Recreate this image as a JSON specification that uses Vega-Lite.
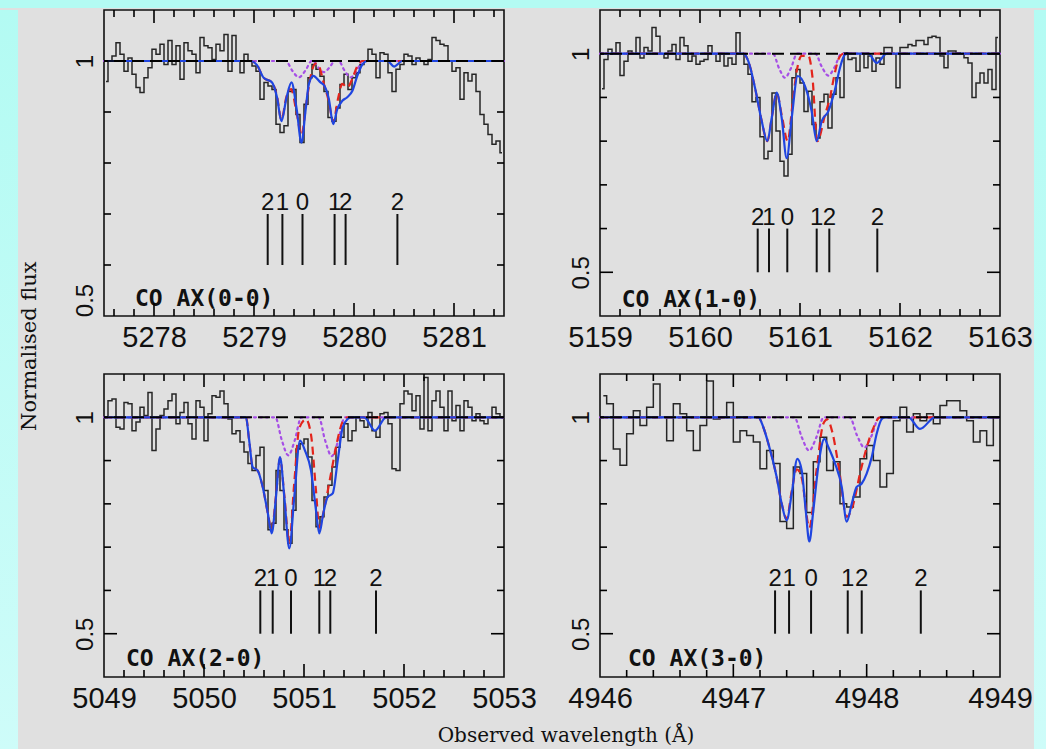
{
 "$schema": "https://vega.github.io/schema/vega-lite/v6.json",
 "background": "#e0e0e0",
 "padding": 0,
 "spacing": 0,
 "config": {
  "view": {"stroke": "#111", "strokeWidth": 1.6, "fill": null},
  "axis": {"domain": false, "grid": false, "ticks": false, "tickSize": 0, "labelColor": "#111", "labelFont": "Liberation Sans", "labelFlush": false, "labelOverlap": false}
 },
 "datasets": {
  "spec": [
   {"p":"a","w":5277.52,"f":0.96},{"p":"a","w":5277.56,"f":1.0},{"p":"a","w":5277.60,"f":1.01},{"p":"a","w":5277.64,"f":1.036},{"p":"a","w":5277.68,"f":1.013},{"p":"a","w":5277.72,"f":0.98},{"p":"a","w":5277.76,"f":1.006},{"p":"a","w":5277.80,"f":0.974},{"p":"a","w":5277.84,"f":0.948},{"p":"a","w":5277.88,"f":0.938},
   {"p":"a","w":5277.92,"f":0.967},{"p":"a","w":5277.96,"f":0.987},{"p":"a","w":5278.00,"f":1.023},{"p":"a","w":5278.04,"f":1.013},{"p":"a","w":5278.08,"f":1.033},{"p":"a","w":5278.12,"f":0.993},{"p":"a","w":5278.16,"f":1.04},{"p":"a","w":5278.20,"f":0.993},{"p":"a","w":5278.24,"f":1.03},{"p":"a","w":5278.28,"f":0.964},
   {"p":"a","w":5278.32,"f":1.036},{"p":"a","w":5278.36,"f":1.02},{"p":"a","w":5278.40,"f":1.013},{"p":"a","w":5278.44,"f":0.977},{"p":"a","w":5278.48,"f":1.046},{"p":"a","w":5278.52,"f":1.03},{"p":"a","w":5278.56,"f":1.026},{"p":"a","w":5278.60,"f":1.003},{"p":"a","w":5278.64,"f":1.033},{"p":"a","w":5278.68,"f":1.02},
   {"p":"a","w":5278.72,"f":1.052},{"p":"a","w":5278.76,"f":0.98},{"p":"a","w":5278.80,"f":1.05},{"p":"a","w":5278.84,"f":1.0},{"p":"a","w":5278.88,"f":0.977},{"p":"a","w":5278.92,"f":1.013},{"p":"a","w":5278.96,"f":1.0},{"p":"a","w":5279.00,"f":0.99},{"p":"a","w":5279.04,"f":0.98},{"p":"a","w":5279.08,"f":0.925},
   {"p":"a","w":5279.12,"f":0.958},{"p":"a","w":5279.16,"f":0.951},{"p":"a","w":5279.20,"f":0.944},{"p":"a","w":5279.24,"f":0.876},{"p":"a","w":5279.28,"f":0.86},{"p":"a","w":5279.32,"f":0.873},{"p":"a","w":5279.36,"f":0.94},{"p":"a","w":5279.40,"f":0.944},{"p":"a","w":5279.44,"f":0.895},{"p":"a","w":5279.48,"f":0.84},
   {"p":"a","w":5279.52,"f":0.915},{"p":"a","w":5279.56,"f":0.967},{"p":"a","w":5279.60,"f":0.993},{"p":"a","w":5279.64,"f":0.984},{"p":"a","w":5279.68,"f":0.97},{"p":"a","w":5279.72,"f":0.94},{"p":"a","w":5279.76,"f":0.889},{"p":"a","w":5279.80,"f":0.882},{"p":"a","w":5279.84,"f":0.908},{"p":"a","w":5279.88,"f":0.954},
   {"p":"a","w":5279.92,"f":0.974},{"p":"a","w":5279.96,"f":0.944},{"p":"a","w":5280.00,"f":0.967},{"p":"a","w":5280.04,"f":0.977},{"p":"a","w":5280.08,"f":0.993},{"p":"a","w":5280.12,"f":1.0},{"p":"a","w":5280.16,"f":1.023},{"p":"a","w":5280.20,"f":1.013},{"p":"a","w":5280.24,"f":0.967},{"p":"a","w":5280.28,"f":1.016},
   {"p":"a","w":5280.32,"f":1.013},{"p":"a","w":5280.36,"f":0.977},{"p":"a","w":5280.40,"f":0.94},{"p":"a","w":5280.44,"f":0.984},{"p":"a","w":5280.48,"f":0.993},{"p":"a","w":5280.52,"f":1.013},{"p":"a","w":5280.56,"f":1.01},{"p":"a","w":5280.60,"f":0.993},{"p":"a","w":5280.64,"f":1.006},{"p":"a","w":5280.68,"f":1.0},
   {"p":"a","w":5280.72,"f":0.993},{"p":"a","w":5280.76,"f":1.003},{"p":"a","w":5280.80,"f":1.046},{"p":"a","w":5280.84,"f":1.04},{"p":"a","w":5280.88,"f":1.033},{"p":"a","w":5280.92,"f":1.03},{"p":"a","w":5280.96,"f":1.0},{"p":"a","w":5281.00,"f":0.98},{"p":"a","w":5281.04,"f":0.987},{"p":"a","w":5281.08,"f":0.925},
   {"p":"a","w":5281.12,"f":0.977},{"p":"a","w":5281.16,"f":0.961},{"p":"a","w":5281.20,"f":0.974},{"p":"a","w":5281.24,"f":0.94},{"p":"a","w":5281.28,"f":0.895},{"p":"a","w":5281.32,"f":0.876},{"p":"a","w":5281.36,"f":0.856},{"p":"a","w":5281.40,"f":0.837},{"p":"a","w":5281.44,"f":0.843},{"p":"a","w":5281.48,"f":0.82},

   {"p":"b","w":5159.02,"f":0.92},{"p":"b","w":5159.06,"f":0.987},{"p":"b","w":5159.10,"f":1.01},{"p":"b","w":5159.14,"f":1.0},{"p":"b","w":5159.18,"f":1.025},{"p":"b","w":5159.22,"f":0.95},{"p":"b","w":5159.26,"f":0.983},{"p":"b","w":5159.30,"f":1.006},{"p":"b","w":5159.34,"f":1.0},{"p":"b","w":5159.38,"f":1.037},
   {"p":"b","w":5159.42,"f":0.99},{"p":"b","w":5159.46,"f":1.014},{"p":"b","w":5159.50,"f":1.006},{"p":"b","w":5159.54,"f":1.06},{"p":"b","w":5159.58,"f":1.04},{"p":"b","w":5159.62,"f":1.0},{"p":"b","w":5159.66,"f":0.99},{"p":"b","w":5159.70,"f":1.006},{"p":"b","w":5159.74,"f":1.021},{"p":"b","w":5159.78,"f":0.987},
   {"p":"b","w":5159.82,"f":1.037},{"p":"b","w":5159.86,"f":1.018},{"p":"b","w":5159.90,"f":0.983},{"p":"b","w":5159.94,"f":0.995},{"p":"b","w":5159.98,"f":0.976},{"p":"b","w":5160.02,"f":0.983},{"p":"b","w":5160.06,"f":0.987},{"p":"b","w":5160.10,"f":1.018},{"p":"b","w":5160.14,"f":1.0},{"p":"b","w":5160.18,"f":0.983},
   {"p":"b","w":5160.22,"f":1.0},{"p":"b","w":5160.26,"f":0.972},{"p":"b","w":5160.30,"f":0.99},{"p":"b","w":5160.34,"f":0.976},{"p":"b","w":5160.38,"f":1.048},{"p":"b","w":5160.42,"f":1.0},{"p":"b","w":5160.46,"f":0.976},{"p":"b","w":5160.50,"f":0.953},{"p":"b","w":5160.54,"f":0.89},{"p":"b","w":5160.58,"f":0.9},
   {"p":"b","w":5160.62,"f":0.81},{"p":"b","w":5160.66,"f":0.76},{"p":"b","w":5160.70,"f":0.777},{"p":"b","w":5160.74,"f":0.91},{"p":"b","w":5160.78,"f":0.823},{"p":"b","w":5160.82,"f":0.754},{"p":"b","w":5160.86,"f":0.72},{"p":"b","w":5160.90,"f":0.77},{"p":"b","w":5160.94,"f":0.945},{"p":"b","w":5160.98,"f":0.964},
   {"p":"b","w":5161.02,"f":0.933},{"p":"b","w":5161.06,"f":0.868},{"p":"b","w":5161.10,"f":0.914},{"p":"b","w":5161.14,"f":0.838},{"p":"b","w":5161.18,"f":0.807},{"p":"b","w":5161.22,"f":0.89},{"p":"b","w":5161.26,"f":0.907},{"p":"b","w":5161.30,"f":0.83},{"p":"b","w":5161.34,"f":0.907},{"p":"b","w":5161.38,"f":0.945},
   {"p":"b","w":5161.42,"f":0.9},{"p":"b","w":5161.46,"f":1.002},{"p":"b","w":5161.50,"f":0.987},{"p":"b","w":5161.54,"f":0.99},{"p":"b","w":5161.58,"f":0.96},{"p":"b","w":5161.62,"f":1.0},{"p":"b","w":5161.66,"f":0.968},{"p":"b","w":5161.70,"f":0.995},{"p":"b","w":5161.74,"f":0.96},{"p":"b","w":5161.78,"f":0.99},
   {"p":"b","w":5161.82,"f":0.976},{"p":"b","w":5161.86,"f":1.014},{"p":"b","w":5161.90,"f":1.014},{"p":"b","w":5161.94,"f":1.0},{"p":"b","w":5161.98,"f":0.922},{"p":"b","w":5162.02,"f":1.014},{"p":"b","w":5162.06,"f":1.014},{"p":"b","w":5162.10,"f":1.021},{"p":"b","w":5162.14,"f":1.018},{"p":"b","w":5162.18,"f":1.03},
   {"p":"b","w":5162.22,"f":1.03},{"p":"b","w":5162.26,"f":1.021},{"p":"b","w":5162.30,"f":1.037},{"p":"b","w":5162.34,"f":1.04},{"p":"b","w":5162.38,"f":1.037},{"p":"b","w":5162.42,"f":0.995},{"p":"b","w":5162.46,"f":0.968},{"p":"b","w":5162.50,"f":1.006},{"p":"b","w":5162.54,"f":1.006},{"p":"b","w":5162.58,"f":1.002},
   {"p":"b","w":5162.62,"f":1.0},{"p":"b","w":5162.66,"f":0.991},{"p":"b","w":5162.70,"f":0.979},{"p":"b","w":5162.74,"f":0.9},{"p":"b","w":5162.78,"f":0.933},{"p":"b","w":5162.82,"f":0.956},{"p":"b","w":5162.86,"f":0.933},{"p":"b","w":5162.90,"f":0.964},{"p":"b","w":5162.94,"f":0.918},{"p":"b","w":5162.98,"f":1.037},

   {"p":"c","w":5049.02,"f":1.0},{"p":"c","w":5049.06,"f":1.038},{"p":"c","w":5049.10,"f":1.042},{"p":"c","w":5049.14,"f":0.977},{"p":"c","w":5049.18,"f":0.973},{"p":"c","w":5049.22,"f":1.034},{"p":"c","w":5049.26,"f":1.031},{"p":"c","w":5049.30,"f":0.969},{"p":"c","w":5049.34,"f":0.989},{"p":"c","w":5049.38,"f":1.023},
   {"p":"c","w":5049.42,"f":1.004},{"p":"c","w":5049.46,"f":1.057},{"p":"c","w":5049.50,"f":0.923},{"p":"c","w":5049.54,"f":0.973},{"p":"c","w":5049.58,"f":1.004},{"p":"c","w":5049.62,"f":1.019},{"p":"c","w":5049.66,"f":1.038},{"p":"c","w":5049.70,"f":1.054},{"p":"c","w":5049.74,"f":0.985},{"p":"c","w":5049.78,"f":1.011},
   {"p":"c","w":5049.82,"f":1.034},{"p":"c","w":5049.86,"f":0.985},{"p":"c","w":5049.90,"f":0.95},{"p":"c","w":5049.94,"f":1.038},{"p":"c","w":5049.98,"f":1.023},{"p":"c","w":5050.02,"f":0.946},{"p":"c","w":5050.06,"f":1.008},{"p":"c","w":5050.10,"f":1.05},{"p":"c","w":5050.14,"f":1.046},{"p":"c","w":5050.18,"f":1.061},
   {"p":"c","w":5050.22,"f":1.031},{"p":"c","w":5050.26,"f":0.996},{"p":"c","w":5050.30,"f":0.962},{"p":"c","w":5050.34,"f":0.969},{"p":"c","w":5050.38,"f":0.943},{"p":"c","w":5050.42,"f":0.92},{"p":"c","w":5050.46,"f":0.893},{"p":"c","w":5050.50,"f":0.877},{"p":"c","w":5050.54,"f":0.912},{"p":"c","w":5050.58,"f":0.931},
   {"p":"c","w":5050.62,"f":0.831},{"p":"c","w":5050.66,"f":0.74},{"p":"c","w":5050.70,"f":0.755},{"p":"c","w":5050.74,"f":0.877},{"p":"c","w":5050.78,"f":0.831},{"p":"c","w":5050.82,"f":0.74},{"p":"c","w":5050.86,"f":0.709},{"p":"c","w":5050.90,"f":0.785},{"p":"c","w":5050.94,"f":0.927},{"p":"c","w":5050.98,"f":0.939},
   {"p":"c","w":5051.02,"f":0.95},{"p":"c","w":5051.06,"f":0.908},{"p":"c","w":5051.10,"f":0.808},{"p":"c","w":5051.14,"f":0.747},{"p":"c","w":5051.18,"f":0.77},{"p":"c","w":5051.22,"f":0.816},{"p":"c","w":5051.26,"f":0.843},{"p":"c","w":5051.30,"f":0.885},{"p":"c","w":5051.34,"f":0.931},{"p":"c","w":5051.38,"f":0.954},
   {"p":"c","w":5051.42,"f":0.985},{"p":"c","w":5051.46,"f":0.946},{"p":"c","w":5051.50,"f":0.969},{"p":"c","w":5051.54,"f":1.0},{"p":"c","w":5051.58,"f":0.992},{"p":"c","w":5051.62,"f":0.977},{"p":"c","w":5051.66,"f":1.011},{"p":"c","w":5051.70,"f":0.969},{"p":"c","w":5051.74,"f":0.954},{"p":"c","w":5051.78,"f":1.008},
   {"p":"c","w":5051.82,"f":1.011},{"p":"c","w":5051.86,"f":0.985},{"p":"c","w":5051.90,"f":0.881},{"p":"c","w":5051.94,"f":0.877},{"p":"c","w":5051.98,"f":1.031},{"p":"c","w":5052.02,"f":1.061},{"p":"c","w":5052.06,"f":1.054},{"p":"c","w":5052.10,"f":1.015},{"p":"c","w":5052.14,"f":1.05},{"p":"c","w":5052.18,"f":0.973},
   {"p":"c","w":5052.22,"f":1.092},{"p":"c","w":5052.26,"f":0.969},{"p":"c","w":5052.30,"f":1.038},{"p":"c","w":5052.34,"f":1.061},{"p":"c","w":5052.38,"f":1.023},{"p":"c","w":5052.42,"f":0.969},{"p":"c","w":5052.46,"f":1.061},{"p":"c","w":5052.50,"f":0.992},{"p":"c","w":5052.54,"f":1.027},{"p":"c","w":5052.58,"f":0.969},
   {"p":"c","w":5052.62,"f":1.038},{"p":"c","w":5052.66,"f":1.023},{"p":"c","w":5052.70,"f":0.992},{"p":"c","w":5052.74,"f":1.008},{"p":"c","w":5052.78,"f":0.992},{"p":"c","w":5052.82,"f":0.985},{"p":"c","w":5052.86,"f":1.0},{"p":"c","w":5052.90,"f":1.023},{"p":"c","w":5052.94,"f":1.008},{"p":"c","w":5052.98,"f":1.0},

   {"p":"d","w":4946.025,"f":1.05},{"p":"d","w":4946.075,"f":1.031},{"p":"d","w":4946.125,"f":0.927},{"p":"d","w":4946.175,"f":0.889},{"p":"d","w":4946.225,"f":0.962},{"p":"d","w":4946.275,"f":1.015},{"p":"d","w":4946.325,"f":0.981},{"p":"d","w":4946.375,"f":1.023},{"p":"d","w":4946.425,"f":1.077},{"p":"d","w":4946.475,"f":1.0},
   {"p":"d","w":4946.525,"f":0.946},{"p":"d","w":4946.575,"f":1.031},{"p":"d","w":4946.625,"f":1.008},{"p":"d","w":4946.675,"f":0.969},{"p":"d","w":4946.725,"f":0.923},{"p":"d","w":4946.775,"f":0.981},{"p":"d","w":4946.825,"f":1.084},{"p":"d","w":4946.875,"f":0.996},{"p":"d","w":4946.925,"f":1.0},{"p":"d","w":4946.975,"f":1.034},
   {"p":"d","w":4947.025,"f":0.943},{"p":"d","w":4947.075,"f":0.969},{"p":"d","w":4947.125,"f":0.958},{"p":"d","w":4947.175,"f":0.943},{"p":"d","w":4947.225,"f":0.881},{"p":"d","w":4947.275,"f":0.923},{"p":"d","w":4947.325,"f":0.893},{"p":"d","w":4947.375,"f":0.759},{"p":"d","w":4947.425,"f":0.743},{"p":"d","w":4947.475,"f":0.885},
   {"p":"d","w":4947.525,"f":0.87},{"p":"d","w":4947.575,"f":0.78},{"p":"d","w":4947.625,"f":0.897},{"p":"d","w":4947.675,"f":0.954},{"p":"d","w":4947.725,"f":0.877},{"p":"d","w":4947.775,"f":0.897},{"p":"d","w":4947.825,"f":0.8},{"p":"d","w":4947.875,"f":0.793},{"p":"d","w":4947.925,"f":0.816},{"p":"d","w":4947.975,"f":0.904},
   {"p":"d","w":4948.025,"f":0.935},{"p":"d","w":4948.075,"f":0.9},{"p":"d","w":4948.125,"f":0.839},{"p":"d","w":4948.175,"f":0.87},{"p":"d","w":4948.225,"f":0.992},{"p":"d","w":4948.275,"f":1.023},{"p":"d","w":4948.325,"f":0.966},{"p":"d","w":4948.375,"f":1.008},{"p":"d","w":4948.425,"f":0.992},{"p":"d","w":4948.475,"f":1.008},
   {"p":"d","w":4948.525,"f":0.985},{"p":"d","w":4948.575,"f":1.027},{"p":"d","w":4948.625,"f":1.038},{"p":"d","w":4948.675,"f":1.038},{"p":"d","w":4948.725,"f":1.015},{"p":"d","w":4948.775,"f":0.992},{"p":"d","w":4948.825,"f":0.943},{"p":"d","w":4948.875,"f":0.969},{"p":"d","w":4948.925,"f":0.935},{"p":"d","w":4948.975,"f":1.0}
  ],
  "model": [
   {"p":"a","c":"b","w":5277.5,"f":1},{"p":"a","c":"b","w":5278.964,"f":1},{"p":"a","c":"b","w":5279.03,"f":0.992},{"p":"a","c":"b","w":5279.097,"f":0.967},{"p":"a","c":"b","w":5279.181,"f":0.958},{"p":"a","c":"b","w":5279.231,"f":0.928},{"p":"a","c":"b","w":5279.274,"f":0.882},{"p":"a","c":"b","w":5279.325,"f":0.928},{"p":"a","c":"b","w":5279.375,"f":0.958},{"p":"a","c":"b","w":5279.425,"f":0.908},{"p":"a","c":"b","w":5279.475,"f":0.84},{"p":"a","c":"b","w":5279.515,"f":0.902},{"p":"a","c":"b","w":5279.548,"f":0.954},{"p":"a","c":"b","w":5279.592,"f":0.971},{"p":"a","c":"b","w":5279.665,"f":0.958},{"p":"a","c":"b","w":5279.705,"f":0.951},{"p":"a","c":"b","w":5279.749,"f":0.925},{"p":"a","c":"b","w":5279.792,"f":0.876},{"p":"a","c":"b","w":5279.832,"f":0.905},{"p":"a","c":"b","w":5279.883,"f":0.922},{"p":"a","c":"b","w":5279.933,"f":0.929},{"p":"a","c":"b","w":5279.983,"f":0.941},{"p":"a","c":"b","w":5280.033,"f":0.971},{"p":"a","c":"b","w":5280.083,"f":0.993},{"p":"a","c":"b","w":5280.133,"f":1},{"p":"a","c":"b","w":5280.334,"f":1},{"p":"a","c":"b","w":5280.401,"f":0.989},{"p":"a","c":"b","w":5280.484,"f":1},{"p":"a","c":"b","w":5281.5,"f":1},
   {"p":"a","c":"r","w":5277.5,"f":1},{"p":"a","c":"r","w":5278.964,"f":1},{"p":"a","c":"r","w":5279.03,"f":0.992},{"p":"a","c":"r","w":5279.097,"f":0.967},{"p":"a","c":"r","w":5279.181,"f":0.958},{"p":"a","c":"r","w":5279.231,"f":0.93},{"p":"a","c":"r","w":5279.274,"f":0.885},{"p":"a","c":"r","w":5279.325,"f":0.93},{"p":"a","c":"r","w":5279.371,"f":0.945},{"p":"a","c":"r","w":5279.425,"f":0.9},{"p":"a","c":"r","w":5279.475,"f":0.855},{"p":"a","c":"r","w":5279.525,"f":0.92},{"p":"a","c":"r","w":5279.572,"f":0.975},{"p":"a","c":"r","w":5279.615,"f":0.995},{"p":"a","c":"r","w":5279.649,"f":0.99},{"p":"a","c":"r","w":5279.699,"f":0.955},{"p":"a","c":"r","w":5279.749,"f":0.92},{"p":"a","c":"r","w":5279.792,"f":0.88},{"p":"a","c":"r","w":5279.839,"f":0.925},{"p":"a","c":"r","w":5279.883,"f":0.955},{"p":"a","c":"r","w":5279.933,"f":0.948},{"p":"a","c":"r","w":5279.983,"f":0.965},{"p":"a","c":"r","w":5280.033,"f":0.99},{"p":"a","c":"r","w":5280.083,"f":1},{"p":"a","c":"r","w":5281.5,"f":1},
   {"p":"a","c":"p","w":5277.5,"f":1},{"p":"a","c":"p","w":5279.318,"f":1},{"p":"a","c":"p","w":5279.383,"f":0.981},{"p":"a","c":"p","w":5279.448,"f":0.968},{"p":"a","c":"p","w":5279.513,"f":0.981},{"p":"a","c":"p","w":5279.578,"f":1},{"p":"a","c":"p","w":5279.589,"f":1},{"p":"a","c":"p","w":5279.644,"f":0.987},{"p":"a","c":"p","w":5279.699,"f":0.978},{"p":"a","c":"p","w":5279.754,"f":0.987},{"p":"a","c":"p","w":5279.809,"f":1},{"p":"a","c":"p","w":5279.846,"f":1},{"p":"a","c":"p","w":5279.906,"f":0.981},{"p":"a","c":"p","w":5279.966,"f":0.968},{"p":"a","c":"p","w":5280.026,"f":0.981},{"p":"a","c":"p","w":5280.086,"f":1},{"p":"a","c":"p","w":5281.5,"f":1},

   {"p":"b","c":"b","w":5159,"f":1},{"p":"b","c":"b","w":5160.433,"f":1},{"p":"b","c":"b","w":5160.483,"f":0.983},{"p":"b","c":"b","w":5160.55,"f":0.922},{"p":"b","c":"b","w":5160.617,"f":0.846},{"p":"b","c":"b","w":5160.673,"f":0.80},{"p":"b","c":"b","w":5160.717,"f":0.853},{"p":"b","c":"b","w":5160.767,"f":0.911},{"p":"b","c":"b","w":5160.817,"f":0.853},{"p":"b","c":"b","w":5160.867,"f":0.761},{"p":"b","c":"b","w":5160.917,"f":0.853},{"p":"b","c":"b","w":5160.977,"f":0.949},{"p":"b","c":"b","w":5161.05,"f":0.926},{"p":"b","c":"b","w":5161.117,"f":0.868},{"p":"b","c":"b","w":5161.167,"f":0.80},{"p":"b","c":"b","w":5161.217,"f":0.846},{"p":"b","c":"b","w":5161.283,"f":0.868},{"p":"b","c":"b","w":5161.35,"f":0.918},{"p":"b","c":"b","w":5161.4,"f":0.968},{"p":"b","c":"b","w":5161.45,"f":0.998},{"p":"b","c":"b","w":5161.483,"f":1},{"p":"b","c":"b","w":5161.683,"f":1},{"p":"b","c":"b","w":5161.767,"f":0.979},{"p":"b","c":"b","w":5161.867,"f":1},{"p":"b","c":"b","w":5163,"f":1},
   {"p":"b","c":"r","w":5159,"f":1},{"p":"b","c":"r","w":5160.433,"f":1},{"p":"b","c":"r","w":5160.483,"f":0.983},{"p":"b","c":"r","w":5160.55,"f":0.922},{"p":"b","c":"r","w":5160.617,"f":0.846},{"p":"b","c":"r","w":5160.673,"f":0.80},{"p":"b","c":"r","w":5160.717,"f":0.853},{"p":"b","c":"r","w":5160.767,"f":0.91},{"p":"b","c":"r","w":5160.817,"f":0.86},{"p":"b","c":"r","w":5160.877,"f":0.80},{"p":"b","c":"r","w":5160.923,"f":0.88},{"p":"b","c":"r","w":5160.967,"f":0.96},{"p":"b","c":"r","w":5161.017,"f":0.995},{"p":"b","c":"r","w":5161.083,"f":0.995},{"p":"b","c":"r","w":5161.123,"f":0.95},{"p":"b","c":"r","w":5161.173,"f":0.80},{"p":"b","c":"r","w":5161.25,"f":0.86},{"p":"b","c":"r","w":5161.3,"f":0.9},{"p":"b","c":"r","w":5161.343,"f":0.95},{"p":"b","c":"r","w":5161.39,"f":0.99},{"p":"b","c":"r","w":5161.433,"f":1},{"p":"b","c":"r","w":5163,"f":1},
   {"p":"b","c":"p","w":5159,"f":1},{"p":"b","c":"p","w":5160.73,"f":1},{"p":"b","c":"p","w":5160.79,"f":0.967},{"p":"b","c":"p","w":5160.85,"f":0.945},{"p":"b","c":"p","w":5160.91,"f":0.967},{"p":"b","c":"p","w":5160.97,"f":1},{"p":"b","c":"p","w":5161.153,"f":1},{"p":"b","c":"p","w":5161.218,"f":0.97},{"p":"b","c":"p","w":5161.283,"f":0.95},{"p":"b","c":"p","w":5161.348,"f":0.97},{"p":"b","c":"p","w":5161.413,"f":1},{"p":"b","c":"p","w":5163,"f":1},

   {"p":"c","c":"b","w":5049,"f":1},{"p":"c","c":"b","w":5050.42,"f":1},{"p":"c","c":"b","w":5050.45,"f":0.95},{"p":"c","c":"b","w":5050.487,"f":0.885},{"p":"c","c":"b","w":5050.537,"f":0.877},{"p":"c","c":"b","w":5050.587,"f":0.839},{"p":"c","c":"b","w":5050.637,"f":0.78},{"p":"c","c":"b","w":5050.677,"f":0.732},{"p":"c","c":"b","w":5050.72,"f":0.816},{"p":"c","c":"b","w":5050.76,"f":0.908},{"p":"c","c":"b","w":5050.803,"f":0.816},{"p":"c","c":"b","w":5050.853,"f":0.697},{"p":"c","c":"b","w":5050.903,"f":0.816},{"p":"c","c":"b","w":5050.96,"f":0.946},{"p":"c","c":"b","w":5051.01,"f":0.923},{"p":"c","c":"b","w":5051.07,"f":0.877},{"p":"c","c":"b","w":5051.12,"f":0.785},{"p":"c","c":"b","w":5051.153,"f":0.732},{"p":"c","c":"b","w":5051.193,"f":0.778},{"p":"c","c":"b","w":5051.237,"f":0.816},{"p":"c","c":"b","w":5051.287,"f":0.824},{"p":"c","c":"b","w":5051.337,"f":0.90},{"p":"c","c":"b","w":5051.387,"f":0.977},{"p":"c","c":"b","w":5051.437,"f":0.996},{"p":"c","c":"b","w":5051.47,"f":1},{"p":"c","c":"b","w":5051.603,"f":1},{"p":"c","c":"b","w":5051.71,"f":0.969},{"p":"c","c":"b","w":5051.82,"f":1},{"p":"c","c":"b","w":5053,"f":1},
   {"p":"c","c":"r","w":5049,"f":1},{"p":"c","c":"r","w":5050.42,"f":1},{"p":"c","c":"r","w":5050.45,"f":0.95},{"p":"c","c":"r","w":5050.487,"f":0.885},{"p":"c","c":"r","w":5050.537,"f":0.877},{"p":"c","c":"r","w":5050.587,"f":0.839},{"p":"c","c":"r","w":5050.637,"f":0.78},{"p":"c","c":"r","w":5050.677,"f":0.74},{"p":"c","c":"r","w":5050.72,"f":0.82},{"p":"c","c":"r","w":5050.76,"f":0.905},{"p":"c","c":"r","w":5050.803,"f":0.82},{"p":"c","c":"r","w":5050.853,"f":0.71},{"p":"c","c":"r","w":5050.903,"f":0.85},{"p":"c","c":"r","w":5050.953,"f":0.975},{"p":"c","c":"r","w":5051.02,"f":0.995},{"p":"c","c":"r","w":5051.07,"f":0.96},{"p":"c","c":"r","w":5051.12,"f":0.83},{"p":"c","c":"r","w":5051.153,"f":0.745},{"p":"c","c":"r","w":5051.203,"f":0.79},{"p":"c","c":"r","w":5051.27,"f":0.87},{"p":"c","c":"r","w":5051.337,"f":0.95},{"p":"c","c":"r","w":5051.387,"f":0.99},{"p":"c","c":"r","w":5051.437,"f":1},{"p":"c","c":"r","w":5053,"f":1},
   {"p":"c","c":"p","w":5049,"f":1},{"p":"c","c":"p","w":5050.713,"f":1},{"p":"c","c":"p","w":5050.778,"f":0.947},{"p":"c","c":"p","w":5050.843,"f":0.912},{"p":"c","c":"p","w":5050.908,"f":0.947},{"p":"c","c":"p","w":5050.973,"f":1},{"p":"c","c":"p","w":5051.147,"f":1},{"p":"c","c":"p","w":5051.212,"f":0.946},{"p":"c","c":"p","w":5051.277,"f":0.91},{"p":"c","c":"p","w":5051.342,"f":0.946},{"p":"c","c":"p","w":5051.407,"f":1},{"p":"c","c":"p","w":5053,"f":1},

   {"p":"d","c":"b","w":4946,"f":1},{"p":"d","c":"b","w":4947.188,"f":1},{"p":"d","c":"b","w":4947.225,"f":0.977},{"p":"d","c":"b","w":4947.263,"f":0.939},{"p":"d","c":"b","w":4947.325,"f":0.862},{"p":"d","c":"b","w":4947.363,"f":0.80},{"p":"d","c":"b","w":4947.4,"f":0.762},{"p":"d","c":"b","w":4947.438,"f":0.824},{"p":"d","c":"b","w":4947.48,"f":0.904},{"p":"d","c":"b","w":4947.513,"f":0.877},{"p":"d","c":"b","w":4947.543,"f":0.785},{"p":"d","c":"b","w":4947.57,"f":0.713},{"p":"d","c":"b","w":4947.6,"f":0.785},{"p":"d","c":"b","w":4947.643,"f":0.90},{"p":"d","c":"b","w":4947.683,"f":0.95},{"p":"d","c":"b","w":4947.713,"f":0.931},{"p":"d","c":"b","w":4947.763,"f":0.893},{"p":"d","c":"b","w":4947.813,"f":0.839},{"p":"d","c":"b","w":4947.85,"f":0.759},{"p":"d","c":"b","w":4947.888,"f":0.80},{"p":"d","c":"b","w":4947.925,"f":0.839},{"p":"d","c":"b","w":4947.963,"f":0.847},{"p":"d","c":"b","w":4948.0,"f":0.87},{"p":"d","c":"b","w":4948.038,"f":0.908},{"p":"d","c":"b","w":4948.075,"f":0.962},{"p":"d","c":"b","w":4948.113,"f":0.996},{"p":"d","c":"b","w":4948.138,"f":1},{"p":"d","c":"b","w":4948.313,"f":1},{"p":"d","c":"b","w":4948.4,"f":0.973},{"p":"d","c":"b","w":4948.513,"f":1},{"p":"d","c":"b","w":4949,"f":1},
   {"p":"d","c":"r","w":4946,"f":1},{"p":"d","c":"r","w":4947.188,"f":1},{"p":"d","c":"r","w":4947.225,"f":0.977},{"p":"d","c":"r","w":4947.263,"f":0.939},{"p":"d","c":"r","w":4947.325,"f":0.862},{"p":"d","c":"r","w":4947.363,"f":0.80},{"p":"d","c":"r","w":4947.4,"f":0.765},{"p":"d","c":"r","w":4947.438,"f":0.83},{"p":"d","c":"r","w":4947.475,"f":0.88},{"p":"d","c":"r","w":4947.513,"f":0.86},{"p":"d","c":"r","w":4947.57,"f":0.745},{"p":"d","c":"r","w":4947.625,"f":0.88},{"p":"d","c":"r","w":4947.675,"f":0.985},{"p":"d","c":"r","w":4947.705,"f":0.995},{"p":"d","c":"r","w":4947.743,"f":0.965},{"p":"d","c":"r","w":4947.793,"f":0.88},{"p":"d","c":"r","w":4947.85,"f":0.77},{"p":"d","c":"r","w":4947.9,"f":0.8},{"p":"d","c":"r","w":4947.95,"f":0.87},{"p":"d","c":"r","w":4948.0,"f":0.93},{"p":"d","c":"r","w":4948.05,"f":0.975},{"p":"d","c":"r","w":4948.1,"f":1},{"p":"d","c":"r","w":4949,"f":1},
   {"p":"d","c":"p","w":4946,"f":1},{"p":"d","c":"p","w":4947.458,"f":1},{"p":"d","c":"p","w":4947.513,"f":0.954},{"p":"d","c":"p","w":4947.568,"f":0.923},{"p":"d","c":"p","w":4947.623,"f":0.954},{"p":"d","c":"p","w":4947.678,"f":1},{"p":"d","c":"p","w":4947.873,"f":1},{"p":"d","c":"p","w":4947.928,"f":0.958},{"p":"d","c":"p","w":4947.983,"f":0.93},{"p":"d","c":"p","w":4948.038,"f":0.958},{"p":"d","c":"p","w":4948.093,"f":1},{"p":"d","c":"p","w":4949,"f":1}
  ],
  "ids": [
   {"p":"a","w":5279.137,"y1":0.6,"y2":0.7,"t":"2"},{"p":"a","w":5279.284,"y1":0.6,"y2":0.7,"t":"1"},{"p":"a","w":5279.485,"y1":0.6,"y2":0.7,"t":"0"},{"p":"a","w":5279.806,"y1":0.6,"y2":0.7,"t":"1"},{"p":"a","w":5279.916,"y1":0.6,"y2":0.7,"t":"2"},{"p":"a","w":5280.434,"y1":0.6,"y2":0.7,"t":"2"},
   {"p":"b","w":5160.577,"y1":0.5,"y2":0.6,"t":"2"},{"p":"b","w":5160.69,"y1":0.5,"y2":0.6,"t":"1"},{"p":"b","w":5160.873,"y1":0.5,"y2":0.6,"t":"0"},{"p":"b","w":5161.167,"y1":0.5,"y2":0.6,"t":"1"},{"p":"b","w":5161.293,"y1":0.5,"y2":0.6,"t":"2"},{"p":"b","w":5161.773,"y1":0.5,"y2":0.6,"t":"2"},
   {"p":"c","w":5050.563,"y1":0.5,"y2":0.6,"t":"2"},{"p":"c","w":5050.687,"y1":0.5,"y2":0.6,"t":"1"},{"p":"c","w":5050.87,"y1":0.5,"y2":0.6,"t":"0"},{"p":"c","w":5051.153,"y1":0.5,"y2":0.6,"t":"1"},{"p":"c","w":5051.263,"y1":0.5,"y2":0.6,"t":"2"},{"p":"c","w":5051.72,"y1":0.5,"y2":0.6,"t":"2"},
   {"p":"d","w":4947.313,"y1":0.5,"y2":0.6,"t":"2"},{"p":"d","w":4947.418,"y1":0.5,"y2":0.6,"t":"1"},{"p":"d","w":4947.583,"y1":0.5,"y2":0.6,"t":"0"},{"p":"d","w":4947.858,"y1":0.5,"y2":0.6,"t":"1"},{"p":"d","w":4947.963,"y1":0.5,"y2":0.6,"t":"2"},{"p":"d","w":4948.406,"y1":0.5,"y2":0.6,"t":"2"}
  ],
  "names": [
   {"p":"a","w":5277.81,"f":0.5196,"t":"CO AX(0-0)"},
   {"p":"b","w":5159.217,"f":0.4213,"t":"CO AX(1-0)"},
   {"p":"c","w":5049.22,"f":0.4246,"t":"CO AX(2-0)"},
   {"p":"d","w":4946.21,"f":0.4253,"t":"CO AX(3-0)"}
  ],
  "tk": [
   {"p":"a","d":"x","k":"M","v":5278},{"p":"a","d":"x","k":"M","v":5279},{"p":"a","d":"x","k":"M","v":5280},{"p":"a","d":"x","k":"M","v":5281},
   {"p":"a","d":"x","k":"m","v":5277.6},{"p":"a","d":"x","k":"m","v":5277.8},{"p":"a","d":"x","k":"m","v":5278.2},{"p":"a","d":"x","k":"m","v":5278.4},{"p":"a","d":"x","k":"m","v":5278.6},{"p":"a","d":"x","k":"m","v":5278.8},{"p":"a","d":"x","k":"m","v":5279.2},{"p":"a","d":"x","k":"m","v":5279.4},{"p":"a","d":"x","k":"m","v":5279.6},{"p":"a","d":"x","k":"m","v":5279.8},{"p":"a","d":"x","k":"m","v":5280.2},{"p":"a","d":"x","k":"m","v":5280.4},{"p":"a","d":"x","k":"m","v":5280.6},{"p":"a","d":"x","k":"m","v":5280.8},{"p":"a","d":"x","k":"m","v":5281.2},{"p":"a","d":"x","k":"m","v":5281.4},
   {"p":"a","d":"y","k":"M","v":1},{"p":"a","d":"y","k":"m","v":0.6},{"p":"a","d":"y","k":"m","v":0.7},{"p":"a","d":"y","k":"m","v":0.8},{"p":"a","d":"y","k":"m","v":0.9},
   {"p":"b","d":"x","k":"M","v":5160},{"p":"b","d":"x","k":"M","v":5161},{"p":"b","d":"x","k":"M","v":5162},
   {"p":"b","d":"x","k":"m","v":5159.2},{"p":"b","d":"x","k":"m","v":5159.4},{"p":"b","d":"x","k":"m","v":5159.6},{"p":"b","d":"x","k":"m","v":5159.8},{"p":"b","d":"x","k":"m","v":5160.2},{"p":"b","d":"x","k":"m","v":5160.4},{"p":"b","d":"x","k":"m","v":5160.6},{"p":"b","d":"x","k":"m","v":5160.8},{"p":"b","d":"x","k":"m","v":5161.2},{"p":"b","d":"x","k":"m","v":5161.4},{"p":"b","d":"x","k":"m","v":5161.6},{"p":"b","d":"x","k":"m","v":5161.8},{"p":"b","d":"x","k":"m","v":5162.2},{"p":"b","d":"x","k":"m","v":5162.4},{"p":"b","d":"x","k":"m","v":5162.6},{"p":"b","d":"x","k":"m","v":5162.8},
   {"p":"b","d":"y","k":"M","v":0.5},{"p":"b","d":"y","k":"M","v":1},{"p":"b","d":"y","k":"m","v":0.6},{"p":"b","d":"y","k":"m","v":0.7},{"p":"b","d":"y","k":"m","v":0.8},{"p":"b","d":"y","k":"m","v":0.9},
   {"p":"c","d":"x","k":"M","v":5050},{"p":"c","d":"x","k":"M","v":5051},{"p":"c","d":"x","k":"M","v":5052},
   {"p":"c","d":"x","k":"m","v":5049.2},{"p":"c","d":"x","k":"m","v":5049.4},{"p":"c","d":"x","k":"m","v":5049.6},{"p":"c","d":"x","k":"m","v":5049.8},{"p":"c","d":"x","k":"m","v":5050.2},{"p":"c","d":"x","k":"m","v":5050.4},{"p":"c","d":"x","k":"m","v":5050.6},{"p":"c","d":"x","k":"m","v":5050.8},{"p":"c","d":"x","k":"m","v":5051.2},{"p":"c","d":"x","k":"m","v":5051.4},{"p":"c","d":"x","k":"m","v":5051.6},{"p":"c","d":"x","k":"m","v":5051.8},{"p":"c","d":"x","k":"m","v":5052.2},{"p":"c","d":"x","k":"m","v":5052.4},{"p":"c","d":"x","k":"m","v":5052.6},{"p":"c","d":"x","k":"m","v":5052.8},
   {"p":"c","d":"y","k":"M","v":0.5},{"p":"c","d":"y","k":"M","v":1},{"p":"c","d":"y","k":"m","v":0.6},{"p":"c","d":"y","k":"m","v":0.7},{"p":"c","d":"y","k":"m","v":0.8},{"p":"c","d":"y","k":"m","v":0.9},
   {"p":"d","d":"x","k":"M","v":4947},{"p":"d","d":"x","k":"M","v":4948},
   {"p":"d","d":"x","k":"m","v":4946.2},{"p":"d","d":"x","k":"m","v":4946.4},{"p":"d","d":"x","k":"m","v":4946.6},{"p":"d","d":"x","k":"m","v":4946.8},{"p":"d","d":"x","k":"m","v":4947.2},{"p":"d","d":"x","k":"m","v":4947.4},{"p":"d","d":"x","k":"m","v":4947.6},{"p":"d","d":"x","k":"m","v":4947.8},{"p":"d","d":"x","k":"m","v":4948.2},{"p":"d","d":"x","k":"m","v":4948.4},{"p":"d","d":"x","k":"m","v":4948.6},{"p":"d","d":"x","k":"m","v":4948.8},
   {"p":"d","d":"y","k":"M","v":0.5},{"p":"d","d":"y","k":"M","v":1},{"p":"d","d":"y","k":"m","v":0.6},{"p":"d","d":"y","k":"m","v":0.7},{"p":"d","d":"y","k":"m","v":0.8},{"p":"d","d":"y","k":"m","v":0.9}
  ]
 },
 "vconcat": [
  {"width": 1046, "height": 8, "data": {"values": [{}]}, "mark": {"type": "rect", "color": "#b3fbf3"}, "view": {"stroke": null}},
  {
   "spacing": 0,
   "hconcat": [
    {"width": 18, "height": 741, "data": {"values": [{}]}, "view": {"stroke": null},
     "mark": {"type": "rect", "color": {"gradient": "linear", "x1": 0, "y1": 0, "x2": 0, "y2": 1, "stops": [{"offset": 0, "color": "#b3fbf3"}, {"offset": 1, "color": "#cefcf9"}]}}},
    {
     "title": {"text": "Observed wavelength (Å)", "orient": "bottom", "anchor": "middle", "font": "DejaVu Serif", "fontSize": 20, "fontWeight": "normal", "color": "#111", "offset": 12, "dx": 40},
     "vconcat": [
      {
       "title": {"text": "Normalised flux", "orient": "left", "anchor": "middle", "font": "DejaVu Serif", "fontSize": 21, "fontWeight": "normal", "color": "#111", "offset": 31, "dx": 15},
       "columns": 2,
       "spacing": {"row": 58, "column": 96},
       "bounds": "flush",
       "concat": [
        {
         "width": 400, "height": 306,
         "layer": [
          {"data": {"name": "spec"}, "transform": [{"filter": "datum.p == 'a'"}],
           "mark": {"type": "line", "interpolate": "step", "color": "#262626", "strokeWidth": 1.5},
           "encoding": {
            "x": {"field": "w", "type": "quantitative", "scale": {"domain": [5277.5, 5281.5], "nice": false, "zero": false},
                  "axis": {"orient": "bottom", "title": null, "values": [5278, 5279, 5280, 5281], "format": "d", "labelPadding": 7, "labelFontSize": 29}},
            "y": {"field": "f", "type": "quantitative", "scale": {"domain": [0.5, 1.1], "nice": false, "zero": false},
                  "axis": {"orient": "left", "title": null, "values": [0.5, 1], "format": "~g", "labelPadding": 7, "labelFontSize": 24, "labelAngle": -90, "labelAlign": "center", "labelBaseline": "bottom", "labelOffset": {"condition": {"test": "datum.value < 0.7", "value": -16}, "value": 0}}}
           }},
          {"data": {"name": "model"}, "transform": [{"filter": "datum.p == 'a' && datum.c == 'p'"}],
           "mark": {"type": "line", "interpolate": "monotone", "color": "#a64ee6", "strokeWidth": 2.2, "strokeDash": [2, 4], "strokeCap": "round"},
           "encoding": {"x": {"field": "w", "type": "quantitative"}, "y": {"field": "f", "type": "quantitative"}}},
          {"data": {"name": "model"}, "transform": [{"filter": "datum.p == 'a' && datum.c == 'r'"}],
           "mark": {"type": "line", "interpolate": "monotone", "color": "#e3241c", "strokeWidth": 2.2, "strokeDash": [8, 5]},
           "encoding": {"x": {"field": "w", "type": "quantitative"}, "y": {"field": "f", "type": "quantitative"}}},
          {"data": {"name": "model"}, "transform": [{"filter": "datum.p == 'a' && datum.c == 'b'"}],
           "mark": {"type": "line", "interpolate": "monotone", "color": "#1f45e0", "strokeWidth": 2.2},
           "encoding": {"x": {"field": "w", "type": "quantitative"}, "y": {"field": "f", "type": "quantitative"}}},
          {"data": {"values": [{}]},
           "mark": {"type": "rule", "color": "#000", "strokeWidth": 2, "strokeDash": [12, 6]},
           "encoding": {"y": {"datum": 1, "type": "quantitative"}}},
          {"data": {"name": "ids"}, "transform": [{"filter": "datum.p == 'a'"}],
           "mark": {"type": "rule", "color": "#111", "strokeWidth": 2},
           "encoding": {"x": {"field": "w", "type": "quantitative"}, "y": {"field": "y1", "type": "quantitative"}, "y2": {"field": "y2"}}},
          {"data": {"name": "ids"}, "transform": [{"filter": "datum.p == 'a'"}],
           "mark": {"type": "text", "font": "Liberation Sans", "fontSize": 24, "baseline": "alphabetic", "dy": -4, "color": "#111"},
           "encoding": {"x": {"field": "w", "type": "quantitative"}, "y": {"field": "y2", "type": "quantitative"}, "text": {"field": "t"}}},
          {"data": {"name": "names"}, "transform": [{"filter": "datum.p == 'a'"}],
           "mark": {"type": "text", "font": "DejaVu Sans Mono", "fontWeight": "bold", "fontSize": 23, "align": "left", "baseline": "alphabetic", "color": "#111"},
           "encoding": {"x": {"field": "w", "type": "quantitative"}, "y": {"field": "f", "type": "quantitative"}, "text": {"field": "t"}}},
          {"data": {"name": "tk"}, "transform": [{"filter": "datum.p == 'a' && datum.d == 'x' && datum.k == 'M'"}],
           "mark": {"type": "rule", "color": "#000", "strokeWidth": 1.6},
           "encoding": {"x": {"field": "v", "type": "quantitative"}, "y": {"datum": 0.5, "type": "quantitative"}, "y2": {"datum": 0.5255}}},
          {"data": {"name": "tk"}, "transform": [{"filter": "datum.p == 'a' && datum.d == 'x' && datum.k == 'm'"}],
           "mark": {"type": "rule", "color": "#000", "strokeWidth": 1.6},
           "encoding": {"x": {"field": "v", "type": "quantitative"}, "y": {"datum": 0.5, "type": "quantitative"}, "y2": {"datum": 0.5137}}},
          {"data": {"name": "tk"}, "transform": [{"filter": "datum.p == 'a' && datum.d == 'x' && datum.k == 'M'"}],
           "mark": {"type": "rule", "color": "#000", "strokeWidth": 1.6},
           "encoding": {"x": {"field": "v", "type": "quantitative"}, "y": {"datum": 1.1, "type": "quantitative"}, "y2": {"datum": 1.0745}}},
          {"data": {"name": "tk"}, "transform": [{"filter": "datum.p == 'a' && datum.d == 'x' && datum.k == 'm'"}],
           "mark": {"type": "rule", "color": "#000", "strokeWidth": 1.6},
           "encoding": {"x": {"field": "v", "type": "quantitative"}, "y": {"datum": 1.1, "type": "quantitative"}, "y2": {"datum": 1.0863}}},
          {"data": {"name": "tk"}, "transform": [{"filter": "datum.p == 'a' && datum.d == 'y' && datum.k == 'M'"}],
           "mark": {"type": "rule", "color": "#000", "strokeWidth": 1.6},
           "encoding": {"y": {"field": "v", "type": "quantitative"}, "x": {"datum": 5277.5, "type": "quantitative"}, "x2": {"datum": 5277.63}}},
          {"data": {"name": "tk"}, "transform": [{"filter": "datum.p == 'a' && datum.d == 'y' && datum.k == 'm'"}],
           "mark": {"type": "rule", "color": "#000", "strokeWidth": 1.6},
           "encoding": {"y": {"field": "v", "type": "quantitative"}, "x": {"datum": 5277.5, "type": "quantitative"}, "x2": {"datum": 5277.57}}},
          {"data": {"name": "tk"}, "transform": [{"filter": "datum.p == 'a' && datum.d == 'y' && datum.k == 'M'"}],
           "mark": {"type": "rule", "color": "#000", "strokeWidth": 1.6},
           "encoding": {"y": {"field": "v", "type": "quantitative"}, "x": {"datum": 5281.5, "type": "quantitative"}, "x2": {"datum": 5281.37}}},
          {"data": {"name": "tk"}, "transform": [{"filter": "datum.p == 'a' && datum.d == 'y' && datum.k == 'm'"}],
           "mark": {"type": "rule", "color": "#000", "strokeWidth": 1.6},
           "encoding": {"y": {"field": "v", "type": "quantitative"}, "x": {"datum": 5281.5, "type": "quantitative"}, "x2": {"datum": 5281.43}}}
         ]
        },
        {
         "width": 400, "height": 306,
         "layer": [
          {"data": {"name": "spec"}, "transform": [{"filter": "datum.p == 'b'"}],
           "mark": {"type": "line", "interpolate": "step", "color": "#262626", "strokeWidth": 1.5},
           "encoding": {
            "x": {"field": "w", "type": "quantitative", "scale": {"domain": [5159, 5163], "nice": false, "zero": false},
                  "axis": {"orient": "bottom", "title": null, "values": [5159, 5160, 5161, 5162, 5163], "format": "d", "labelPadding": 7, "labelFontSize": 29}},
            "y": {"field": "f", "type": "quantitative", "scale": {"domain": [0.4, 1.1], "nice": false, "zero": false},
                  "axis": {"orient": "left", "title": null, "values": [0.5, 1], "format": "~g", "labelPadding": 7, "labelFontSize": 24, "labelAngle": -90, "labelAlign": "center", "labelBaseline": "bottom"}}
           }},
          {"data": {"name": "model"}, "transform": [{"filter": "datum.p == 'b' && datum.c == 'p'"}],
           "mark": {"type": "line", "interpolate": "monotone", "color": "#a64ee6", "strokeWidth": 2.2, "strokeDash": [2, 4], "strokeCap": "round"},
           "encoding": {"x": {"field": "w", "type": "quantitative"}, "y": {"field": "f", "type": "quantitative"}}},
          {"data": {"name": "model"}, "transform": [{"filter": "datum.p == 'b' && datum.c == 'r'"}],
           "mark": {"type": "line", "interpolate": "monotone", "color": "#e3241c", "strokeWidth": 2.2, "strokeDash": [8, 5]},
           "encoding": {"x": {"field": "w", "type": "quantitative"}, "y": {"field": "f", "type": "quantitative"}}},
          {"data": {"name": "model"}, "transform": [{"filter": "datum.p == 'b' && datum.c == 'b'"}],
           "mark": {"type": "line", "interpolate": "monotone", "color": "#1f45e0", "strokeWidth": 2.2},
           "encoding": {"x": {"field": "w", "type": "quantitative"}, "y": {"field": "f", "type": "quantitative"}}},
          {"data": {"values": [{}]},
           "mark": {"type": "rule", "color": "#000", "strokeWidth": 2, "strokeDash": [12, 6]},
           "encoding": {"y": {"datum": 1, "type": "quantitative"}}},
          {"data": {"name": "ids"}, "transform": [{"filter": "datum.p == 'b'"}],
           "mark": {"type": "rule", "color": "#111", "strokeWidth": 2},
           "encoding": {"x": {"field": "w", "type": "quantitative"}, "y": {"field": "y1", "type": "quantitative"}, "y2": {"field": "y2"}}},
          {"data": {"name": "ids"}, "transform": [{"filter": "datum.p == 'b'"}],
           "mark": {"type": "text", "font": "Liberation Sans", "fontSize": 24, "baseline": "alphabetic", "dy": -4, "color": "#111"},
           "encoding": {"x": {"field": "w", "type": "quantitative"}, "y": {"field": "y2", "type": "quantitative"}, "text": {"field": "t"}}},
          {"data": {"name": "names"}, "transform": [{"filter": "datum.p == 'b'"}],
           "mark": {"type": "text", "font": "DejaVu Sans Mono", "fontWeight": "bold", "fontSize": 23, "align": "left", "baseline": "alphabetic", "color": "#111"},
           "encoding": {"x": {"field": "w", "type": "quantitative"}, "y": {"field": "f", "type": "quantitative"}, "text": {"field": "t"}}},
          {"data": {"name": "tk"}, "transform": [{"filter": "datum.p == 'b' && datum.d == 'x' && datum.k == 'M'"}],
           "mark": {"type": "rule", "color": "#000", "strokeWidth": 1.6},
           "encoding": {"x": {"field": "v", "type": "quantitative"}, "y": {"datum": 0.4, "type": "quantitative"}, "y2": {"datum": 0.4298}}},
          {"data": {"name": "tk"}, "transform": [{"filter": "datum.p == 'b' && datum.d == 'x' && datum.k == 'm'"}],
           "mark": {"type": "rule", "color": "#000", "strokeWidth": 1.6},
           "encoding": {"x": {"field": "v", "type": "quantitative"}, "y": {"datum": 0.4, "type": "quantitative"}, "y2": {"datum": 0.416}}},
          {"data": {"name": "tk"}, "transform": [{"filter": "datum.p == 'b' && datum.d == 'x' && datum.k == 'M'"}],
           "mark": {"type": "rule", "color": "#000", "strokeWidth": 1.6},
           "encoding": {"x": {"field": "v", "type": "quantitative"}, "y": {"datum": 1.1, "type": "quantitative"}, "y2": {"datum": 1.0702}}},
          {"data": {"name": "tk"}, "transform": [{"filter": "datum.p == 'b' && datum.d == 'x' && datum.k == 'm'"}],
           "mark": {"type": "rule", "color": "#000", "strokeWidth": 1.6},
           "encoding": {"x": {"field": "v", "type": "quantitative"}, "y": {"datum": 1.1, "type": "quantitative"}, "y2": {"datum": 1.084}}},
          {"data": {"name": "tk"}, "transform": [{"filter": "datum.p == 'b' && datum.d == 'y' && datum.k == 'M'"}],
           "mark": {"type": "rule", "color": "#000", "strokeWidth": 1.6},
           "encoding": {"y": {"field": "v", "type": "quantitative"}, "x": {"datum": 5159, "type": "quantitative"}, "x2": {"datum": 5159.13}}},
          {"data": {"name": "tk"}, "transform": [{"filter": "datum.p == 'b' && datum.d == 'y' && datum.k == 'm'"}],
           "mark": {"type": "rule", "color": "#000", "strokeWidth": 1.6},
           "encoding": {"y": {"field": "v", "type": "quantitative"}, "x": {"datum": 5159, "type": "quantitative"}, "x2": {"datum": 5159.07}}},
          {"data": {"name": "tk"}, "transform": [{"filter": "datum.p == 'b' && datum.d == 'y' && datum.k == 'M'"}],
           "mark": {"type": "rule", "color": "#000", "strokeWidth": 1.6},
           "encoding": {"y": {"field": "v", "type": "quantitative"}, "x": {"datum": 5163, "type": "quantitative"}, "x2": {"datum": 5162.87}}},
          {"data": {"name": "tk"}, "transform": [{"filter": "datum.p == 'b' && datum.d == 'y' && datum.k == 'm'"}],
           "mark": {"type": "rule", "color": "#000", "strokeWidth": 1.6},
           "encoding": {"y": {"field": "v", "type": "quantitative"}, "x": {"datum": 5163, "type": "quantitative"}, "x2": {"datum": 5162.93}}}
         ]
        },
        {
         "width": 400, "height": 303,
         "layer": [
          {"data": {"name": "spec"}, "transform": [{"filter": "datum.p == 'c'"}],
           "mark": {"type": "line", "interpolate": "step", "color": "#262626", "strokeWidth": 1.5},
           "encoding": {
            "x": {"field": "w", "type": "quantitative", "scale": {"domain": [5049, 5053], "nice": false, "zero": false},
                  "axis": {"orient": "bottom", "title": null, "values": [5049, 5050, 5051, 5052, 5053], "format": "d", "labelPadding": 7, "labelFontSize": 29}},
            "y": {"field": "f", "type": "quantitative", "scale": {"domain": [0.4, 1.1], "nice": false, "zero": false},
                  "axis": {"orient": "left", "title": null, "values": [0.5, 1], "format": "~g", "labelPadding": 7, "labelFontSize": 24, "labelAngle": -90, "labelAlign": "center", "labelBaseline": "bottom"}}
           }},
          {"data": {"name": "model"}, "transform": [{"filter": "datum.p == 'c' && datum.c == 'p'"}],
           "mark": {"type": "line", "interpolate": "monotone", "color": "#a64ee6", "strokeWidth": 2.2, "strokeDash": [2, 4], "strokeCap": "round"},
           "encoding": {"x": {"field": "w", "type": "quantitative"}, "y": {"field": "f", "type": "quantitative"}}},
          {"data": {"name": "model"}, "transform": [{"filter": "datum.p == 'c' && datum.c == 'r'"}],
           "mark": {"type": "line", "interpolate": "monotone", "color": "#e3241c", "strokeWidth": 2.2, "strokeDash": [8, 5]},
           "encoding": {"x": {"field": "w", "type": "quantitative"}, "y": {"field": "f", "type": "quantitative"}}},
          {"data": {"name": "model"}, "transform": [{"filter": "datum.p == 'c' && datum.c == 'b'"}],
           "mark": {"type": "line", "interpolate": "monotone", "color": "#1f45e0", "strokeWidth": 2.2},
           "encoding": {"x": {"field": "w", "type": "quantitative"}, "y": {"field": "f", "type": "quantitative"}}},
          {"data": {"values": [{}]},
           "mark": {"type": "rule", "color": "#000", "strokeWidth": 2, "strokeDash": [12, 6]},
           "encoding": {"y": {"datum": 1, "type": "quantitative"}}},
          {"data": {"name": "ids"}, "transform": [{"filter": "datum.p == 'c'"}],
           "mark": {"type": "rule", "color": "#111", "strokeWidth": 2},
           "encoding": {"x": {"field": "w", "type": "quantitative"}, "y": {"field": "y1", "type": "quantitative"}, "y2": {"field": "y2"}}},
          {"data": {"name": "ids"}, "transform": [{"filter": "datum.p == 'c'"}],
           "mark": {"type": "text", "font": "Liberation Sans", "fontSize": 24, "baseline": "alphabetic", "dy": -4, "color": "#111"},
           "encoding": {"x": {"field": "w", "type": "quantitative"}, "y": {"field": "y2", "type": "quantitative"}, "text": {"field": "t"}}},
          {"data": {"name": "names"}, "transform": [{"filter": "datum.p == 'c'"}],
           "mark": {"type": "text", "font": "DejaVu Sans Mono", "fontWeight": "bold", "fontSize": 23, "align": "left", "baseline": "alphabetic", "color": "#111"},
           "encoding": {"x": {"field": "w", "type": "quantitative"}, "y": {"field": "f", "type": "quantitative"}, "text": {"field": "t"}}},
          {"data": {"name": "tk"}, "transform": [{"filter": "datum.p == 'c' && datum.d == 'x' && datum.k == 'M'"}],
           "mark": {"type": "rule", "color": "#000", "strokeWidth": 1.6},
           "encoding": {"x": {"field": "v", "type": "quantitative"}, "y": {"datum": 0.4, "type": "quantitative"}, "y2": {"datum": 0.43}}},
          {"data": {"name": "tk"}, "transform": [{"filter": "datum.p == 'c' && datum.d == 'x' && datum.k == 'm'"}],
           "mark": {"type": "rule", "color": "#000", "strokeWidth": 1.6},
           "encoding": {"x": {"field": "v", "type": "quantitative"}, "y": {"datum": 0.4, "type": "quantitative"}, "y2": {"datum": 0.4162}}},
          {"data": {"name": "tk"}, "transform": [{"filter": "datum.p == 'c' && datum.d == 'x' && datum.k == 'M'"}],
           "mark": {"type": "rule", "color": "#000", "strokeWidth": 1.6},
           "encoding": {"x": {"field": "v", "type": "quantitative"}, "y": {"datum": 1.1, "type": "quantitative"}, "y2": {"datum": 1.07}}},
          {"data": {"name": "tk"}, "transform": [{"filter": "datum.p == 'c' && datum.d == 'x' && datum.k == 'm'"}],
           "mark": {"type": "rule", "color": "#000", "strokeWidth": 1.6},
           "encoding": {"x": {"field": "v", "type": "quantitative"}, "y": {"datum": 1.1, "type": "quantitative"}, "y2": {"datum": 1.0838}}},
          {"data": {"name": "tk"}, "transform": [{"filter": "datum.p == 'c' && datum.d == 'y' && datum.k == 'M'"}],
           "mark": {"type": "rule", "color": "#000", "strokeWidth": 1.6},
           "encoding": {"y": {"field": "v", "type": "quantitative"}, "x": {"datum": 5049, "type": "quantitative"}, "x2": {"datum": 5049.13}}},
          {"data": {"name": "tk"}, "transform": [{"filter": "datum.p == 'c' && datum.d == 'y' && datum.k == 'm'"}],
           "mark": {"type": "rule", "color": "#000", "strokeWidth": 1.6},
           "encoding": {"y": {"field": "v", "type": "quantitative"}, "x": {"datum": 5049, "type": "quantitative"}, "x2": {"datum": 5049.07}}},
          {"data": {"name": "tk"}, "transform": [{"filter": "datum.p == 'c' && datum.d == 'y' && datum.k == 'M'"}],
           "mark": {"type": "rule", "color": "#000", "strokeWidth": 1.6},
           "encoding": {"y": {"field": "v", "type": "quantitative"}, "x": {"datum": 5053, "type": "quantitative"}, "x2": {"datum": 5052.87}}},
          {"data": {"name": "tk"}, "transform": [{"filter": "datum.p == 'c' && datum.d == 'y' && datum.k == 'm'"}],
           "mark": {"type": "rule", "color": "#000", "strokeWidth": 1.6},
           "encoding": {"y": {"field": "v", "type": "quantitative"}, "x": {"datum": 5053, "type": "quantitative"}, "x2": {"datum": 5052.93}}}
         ]
        },
        {
         "width": 400, "height": 303,
         "layer": [
          {"data": {"name": "spec"}, "transform": [{"filter": "datum.p == 'd'"}],
           "mark": {"type": "line", "interpolate": "step", "color": "#262626", "strokeWidth": 1.5},
           "encoding": {
            "x": {"field": "w", "type": "quantitative", "scale": {"domain": [4946, 4949], "nice": false, "zero": false},
                  "axis": {"orient": "bottom", "title": null, "values": [4946, 4947, 4948, 4949], "format": "d", "labelPadding": 7, "labelFontSize": 29}},
            "y": {"field": "f", "type": "quantitative", "scale": {"domain": [0.4, 1.1], "nice": false, "zero": false},
                  "axis": {"orient": "left", "title": null, "values": [0.5, 1], "format": "~g", "labelPadding": 7, "labelFontSize": 24, "labelAngle": -90, "labelAlign": "center", "labelBaseline": "bottom"}}
           }},
          {"data": {"name": "model"}, "transform": [{"filter": "datum.p == 'd' && datum.c == 'p'"}],
           "mark": {"type": "line", "interpolate": "monotone", "color": "#a64ee6", "strokeWidth": 2.2, "strokeDash": [2, 4], "strokeCap": "round"},
           "encoding": {"x": {"field": "w", "type": "quantitative"}, "y": {"field": "f", "type": "quantitative"}}},
          {"data": {"name": "model"}, "transform": [{"filter": "datum.p == 'd' && datum.c == 'r'"}],
           "mark": {"type": "line", "interpolate": "monotone", "color": "#e3241c", "strokeWidth": 2.2, "strokeDash": [8, 5]},
           "encoding": {"x": {"field": "w", "type": "quantitative"}, "y": {"field": "f", "type": "quantitative"}}},
          {"data": {"name": "model"}, "transform": [{"filter": "datum.p == 'd' && datum.c == 'b'"}],
           "mark": {"type": "line", "interpolate": "monotone", "color": "#1f45e0", "strokeWidth": 2.2},
           "encoding": {"x": {"field": "w", "type": "quantitative"}, "y": {"field": "f", "type": "quantitative"}}},
          {"data": {"values": [{}]},
           "mark": {"type": "rule", "color": "#000", "strokeWidth": 2, "strokeDash": [12, 6]},
           "encoding": {"y": {"datum": 1, "type": "quantitative"}}},
          {"data": {"name": "ids"}, "transform": [{"filter": "datum.p == 'd'"}],
           "mark": {"type": "rule", "color": "#111", "strokeWidth": 2},
           "encoding": {"x": {"field": "w", "type": "quantitative"}, "y": {"field": "y1", "type": "quantitative"}, "y2": {"field": "y2"}}},
          {"data": {"name": "ids"}, "transform": [{"filter": "datum.p == 'd'"}],
           "mark": {"type": "text", "font": "Liberation Sans", "fontSize": 24, "baseline": "alphabetic", "dy": -4, "color": "#111"},
           "encoding": {"x": {"field": "w", "type": "quantitative"}, "y": {"field": "y2", "type": "quantitative"}, "text": {"field": "t"}}},
          {"data": {"name": "names"}, "transform": [{"filter": "datum.p == 'd'"}],
           "mark": {"type": "text", "font": "DejaVu Sans Mono", "fontWeight": "bold", "fontSize": 23, "align": "left", "baseline": "alphabetic", "color": "#111"},
           "encoding": {"x": {"field": "w", "type": "quantitative"}, "y": {"field": "f", "type": "quantitative"}, "text": {"field": "t"}}},
          {"data": {"name": "tk"}, "transform": [{"filter": "datum.p == 'd' && datum.d == 'x' && datum.k == 'M'"}],
           "mark": {"type": "rule", "color": "#000", "strokeWidth": 1.6},
           "encoding": {"x": {"field": "v", "type": "quantitative"}, "y": {"datum": 0.4, "type": "quantitative"}, "y2": {"datum": 0.43}}},
          {"data": {"name": "tk"}, "transform": [{"filter": "datum.p == 'd' && datum.d == 'x' && datum.k == 'm'"}],
           "mark": {"type": "rule", "color": "#000", "strokeWidth": 1.6},
           "encoding": {"x": {"field": "v", "type": "quantitative"}, "y": {"datum": 0.4, "type": "quantitative"}, "y2": {"datum": 0.4162}}},
          {"data": {"name": "tk"}, "transform": [{"filter": "datum.p == 'd' && datum.d == 'x' && datum.k == 'M'"}],
           "mark": {"type": "rule", "color": "#000", "strokeWidth": 1.6},
           "encoding": {"x": {"field": "v", "type": "quantitative"}, "y": {"datum": 1.1, "type": "quantitative"}, "y2": {"datum": 1.07}}},
          {"data": {"name": "tk"}, "transform": [{"filter": "datum.p == 'd' && datum.d == 'x' && datum.k == 'm'"}],
           "mark": {"type": "rule", "color": "#000", "strokeWidth": 1.6},
           "encoding": {"x": {"field": "v", "type": "quantitative"}, "y": {"datum": 1.1, "type": "quantitative"}, "y2": {"datum": 1.0838}}},
          {"data": {"name": "tk"}, "transform": [{"filter": "datum.p == 'd' && datum.d == 'y' && datum.k == 'M'"}],
           "mark": {"type": "rule", "color": "#000", "strokeWidth": 1.6},
           "encoding": {"y": {"field": "v", "type": "quantitative"}, "x": {"datum": 4946, "type": "quantitative"}, "x2": {"datum": 4946.0975}}},
          {"data": {"name": "tk"}, "transform": [{"filter": "datum.p == 'd' && datum.d == 'y' && datum.k == 'm'"}],
           "mark": {"type": "rule", "color": "#000", "strokeWidth": 1.6},
           "encoding": {"y": {"field": "v", "type": "quantitative"}, "x": {"datum": 4946, "type": "quantitative"}, "x2": {"datum": 4946.0525}}},
          {"data": {"name": "tk"}, "transform": [{"filter": "datum.p == 'd' && datum.d == 'y' && datum.k == 'M'"}],
           "mark": {"type": "rule", "color": "#000", "strokeWidth": 1.6},
           "encoding": {"y": {"field": "v", "type": "quantitative"}, "x": {"datum": 4949, "type": "quantitative"}, "x2": {"datum": 4948.9025}}},
          {"data": {"name": "tk"}, "transform": [{"filter": "datum.p == 'd' && datum.d == 'y' && datum.k == 'm'"}],
           "mark": {"type": "rule", "color": "#000", "strokeWidth": 1.6},
           "encoding": {"y": {"field": "v", "type": "quantitative"}, "x": {"datum": 4949, "type": "quantitative"}, "x2": {"datum": 4948.9475}}}
         ]
        }
       ]
      }
     ]
    },
    {"width": 14, "height": 741, "data": {"values": [{}]}, "view": {"stroke": null},
     "mark": {"type": "rect", "color": {"gradient": "linear", "x1": 0, "y1": 0, "x2": 0, "y2": 1, "stops": [{"offset": 0, "color": "#b3fbf3"}, {"offset": 1, "color": "#cefcf9"}]}}}
   ]
  }
 ]
}
